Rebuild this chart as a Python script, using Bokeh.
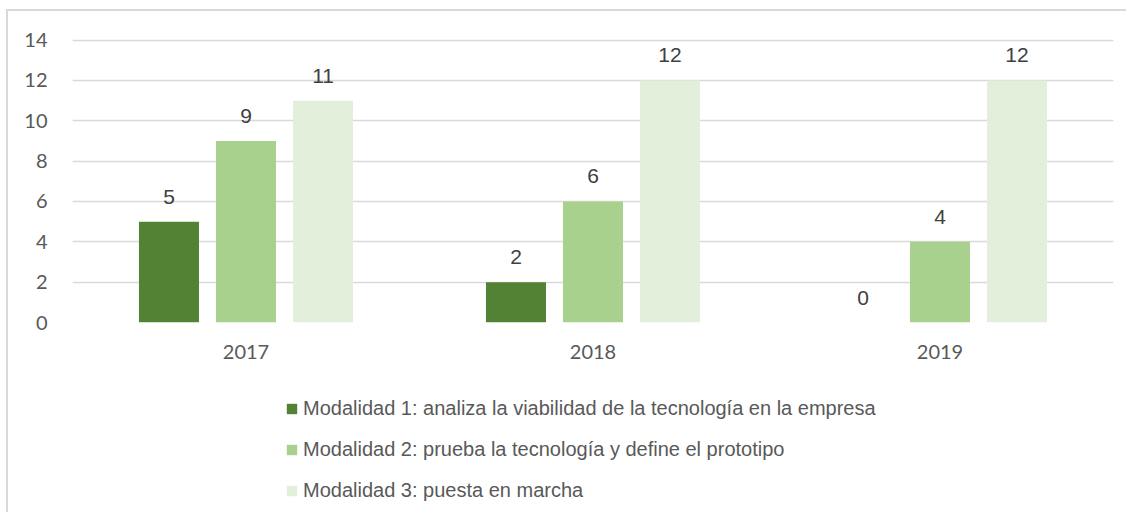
from bokeh.plotting import figure
from bokeh.layouts import column
from bokeh.models import (ColumnDataSource, FactorRange, Range1d, LabelSet, Legend,
                          LegendItem, SingleIntervalTicker)
from bokeh.transform import dodge
from bokeh.core.properties import value
from bokeh.embed import file_html
from bokeh.resources import INLINE

years = ["2017", "2018", "2019"]
mod1 = [5, 2, 0]
mod2 = [9, 6, 4]
mod3 = [11, 12, 12]
series_names = [
    "Modalidad 1: analiza la viabilidad de la tecnología en la empresa",
    "Modalidad 2: prueba la tecnología y define el prototipo",
    "Modalidad 3: puesta en marcha",
]
colors = ["#548235", "#A9D18E", "#E2EFDA"]

src = ColumnDataSource(dict(years=years, m1=mod1, m2=mod2, m3=mod3))

NARROW = "Liberation Sans Narrow, Arial Narrow, Liberation Sans, sans-serif"
offsets = [-0.222, 0.0, 0.222]
cols = ["m1", "m2", "m3"]

# main chart
p = figure(x_range=FactorRange(*years), y_range=Range1d(0, 14.08),
           width=1118, height=375, output_backend="svg", toolbar_location=None,
           min_border_left=64, min_border_top=27, min_border_right=13,
           min_border_bottom=64)
p.outline_line_color = None
p.background_fill_color = "white"
p.border_fill_color = "white"

for col, off, c in zip(cols, offsets, colors):
    p.vbar(x=dodge("years", off, range=p.x_range), top=col, width=0.173,
           source=src, fill_color=c, line_color=None)
    lbl = LabelSet(x=dodge("years", off, range=p.x_range), y=col, text=col,
                   source=src, y_offset=18, text_align="center",
                   text_baseline="alphabetic", text_font=value(NARROW),
                   text_font_size="21px", text_color="#404040")
    p.add_layout(lbl)

p.ygrid.grid_line_color = "#d9d9d9"
p.ygrid.grid_line_width = 1.5
p.xgrid.grid_line_color = None

p.yaxis.ticker = SingleIntervalTicker(interval=2)
for ax in (p.xaxis[0], p.yaxis[0]):
    ax.axis_line_color = None
    ax.major_tick_line_color = None
    ax.minor_tick_line_color = None
    ax.major_tick_out = 0
    ax.major_tick_in = 0
    ax.minor_tick_out = 0
    ax.minor_tick_in = 0
    ax.major_label_text_font = "Lato"
    ax.major_label_text_font_size = "20px"
    ax.major_label_text_color = "#595959"
p.yaxis.major_label_standoff = 25
p.xaxis.major_label_standoff = 22

# legend strip (bars here sit outside its visible range; only legend shows)
lg = figure(x_range=FactorRange(*years), y_range=Range1d(100, 200),
            width=1118, height=126, output_backend="svg", toolbar_location=None,
            min_border_left=0, min_border_top=0, min_border_right=0,
            min_border_bottom=0)
lg.outline_line_color = None
lg.axis.visible = False
lg.grid.grid_line_color = None
lg.background_fill_color = "white"
lg.border_fill_color = "white"
renderers = []
for col, off, c in zip(cols, offsets, colors):
    r = lg.vbar(x=dodge("years", off, range=lg.x_range), top=col, width=0.173,
                source=src, fill_color=c, line_color=None)
    renderers.append(r)

items = [LegendItem(label=n, renderers=[r]) for n, r in zip(series_names, renderers)]
legend = Legend(items=items, location=(213, 10), orientation="vertical",
                label_text_font=NARROW, label_text_font_size="20px",
                label_text_color="#595959", glyph_width=13, glyph_height=13,
                label_standoff=5, label_height=21, spacing=18, padding=0, margin=0,
                border_line_color=None, background_fill_alpha=0)
lg.add_layout(legend, "center")

layout = column(p, lg, spacing=0,
                styles={"border-left": "2px solid #d9d9d9", "border-top": "2px solid #d9d9d9"})
layout.margin = (9, 0, 0, 6)

open("out.html", "w").write(file_html(layout, INLINE))
